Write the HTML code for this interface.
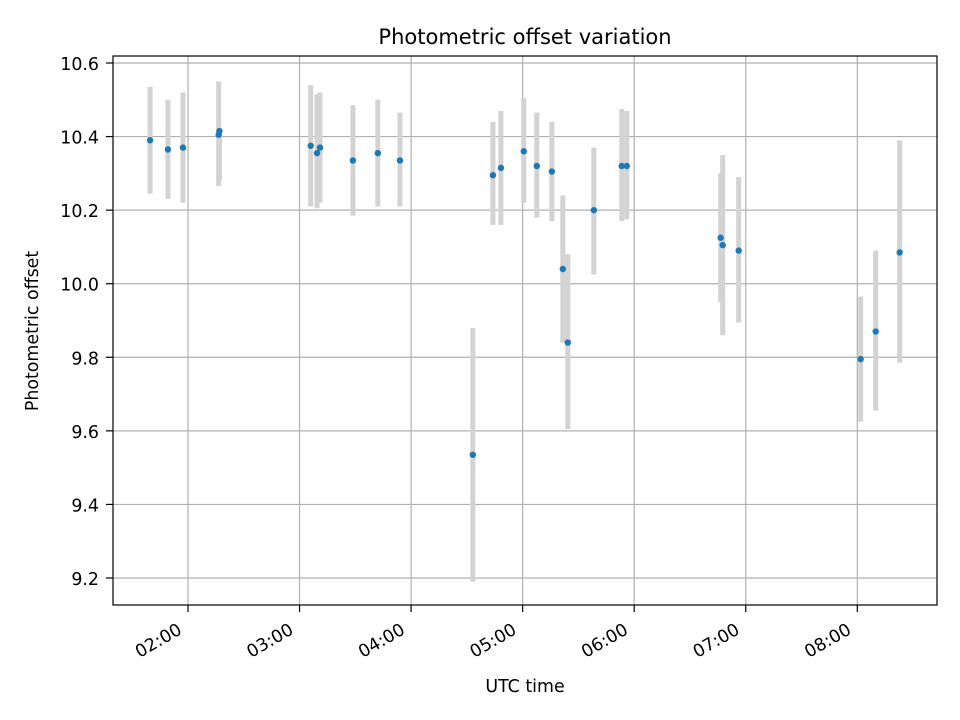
<!DOCTYPE html>
<html><head><meta charset="utf-8"><style>
body{margin:0;background:#fff}
svg{display:block;font-family:"DejaVu Sans","Liberation Sans",sans-serif}
</style></head><body>
<svg id="chart" width="960" height="720" viewBox="0 0 960 720" xmlns="http://www.w3.org/2000/svg">
<rect width="960" height="720" fill="#fff"/>
<g id="grid"></g>
<g id="errs"></g>
<g id="pts"></g>
<rect x="113" y="56" width="824" height="549" fill="none" stroke="#000" stroke-width="1.2"/>
<g id="ticks"></g>
<text x="525" y="44" text-anchor="middle" font-size="21">Photometric offset variation</text>
<text x="525" y="692" text-anchor="middle" font-size="17.4">UTC time</text>
<text transform="translate(38,331) rotate(-90)" text-anchor="middle" font-size="17.4">Photometric offset</text>
</svg>
<script>
// minutes since 00:00 UTC
const times=[99.6,109.2,117.3,136.5,136.9,186,189.4,191,208.7,222.1,234,273.2,284,288.3,300.6,307.6,315.7,321.6,324.3,338.3,353.3,356,406.5,407.6,416.2,481.8,489.9,502.8];
const values=[10.39,10.365,10.37,10.405,10.415,10.375,10.355,10.37,10.335,10.355,10.335,9.535,10.295,10.315,10.36,10.32,10.305,10.04,9.84,10.2,10.32,10.32,10.125,10.105,10.09,9.795,9.87,10.085];
const upper=[10.535,10.50,10.52,10.55,10.41,10.54,10.515,10.52,10.485,10.50,10.465,9.88,10.44,10.47,10.505,10.465,10.44,10.24,10.08,10.37,10.475,10.47,10.30,10.35,10.29,9.965,10.09,10.39];
const lower=[10.245,10.23,10.22,10.265,10.28,10.21,10.205,10.22,10.185,10.21,10.21,9.19,10.16,10.16,10.22,10.18,10.17,9.84,9.605,10.025,10.17,10.175,9.95,9.86,9.895,9.625,9.655,9.785];
const yTicks=[9.2,9.4,9.6,9.8,10.0,10.2,10.4,10.6];
const xTickMinutes=[120,180,240,300,360,420,480];
const xTickLabels=["02:00","03:00","04:00","05:00","06:00","07:00","08:00"];
const NS="http://www.w3.org/2000/svg";
const X=t=>188+(t-120)*111.55/60;
const Y=v=>578-(v-9.2)*(515/1.4);
function mk(tag,attrs,parent){const e=document.createElementNS(NS,tag);for(const k in attrs)e.setAttribute(k,attrs[k]);parent.appendChild(e);return e;}
const grid=document.getElementById('grid'),errs=document.getElementById('errs'),pts=document.getElementById('pts'),ticks=document.getElementById('ticks');
yTicks.forEach(v=>{
  const g=mk('line',{x1:113,x2:937,y1:Y(v),y2:Y(v),stroke:'#b0b0b0','stroke-width':1.2},grid);
  
  
  const t=mk('line',{x1:106,x2:113,y1:Y(v),y2:Y(v),stroke:'#000','stroke-width':1.2},ticks);
  
  
  const l=mk('text',{x:99,y:Y(v)+7,'text-anchor':'end','font-size':17.4},ticks);
  
  
  l.textContent=v.toFixed(1);
});
xTickMinutes.forEach((m,i)=>{
  const x=X(m);
  const g=mk('line',{x1:x,x2:x,y1:56,y2:605,stroke:'#b0b0b0','stroke-width':1.2},grid);
  
  
  const t=mk('line',{x1:x,x2:x,y1:605,y2:612,stroke:'#000','stroke-width':1.2},ticks);
  
  
  const l=mk('text',{'text-anchor':'end','font-size':17.4,transform:`translate(${x-5},${633}) rotate(-30)`},ticks);
  
  
  l.textContent=xTickLabels[i];
});
times.forEach((t,i)=>{
  const x=X(t);
  const b=mk('line',{x1:x,x2:x,y1:Y(upper[i]),y2:Y(lower[i]),stroke:'#d3d3d3','stroke-width':5},errs);
  
  
  const c=mk('circle',{cx:x,cy:Y(values[i]),r:3.2,fill:'#1f77b4'},pts);
  
  
});
</script>
</body></html>
